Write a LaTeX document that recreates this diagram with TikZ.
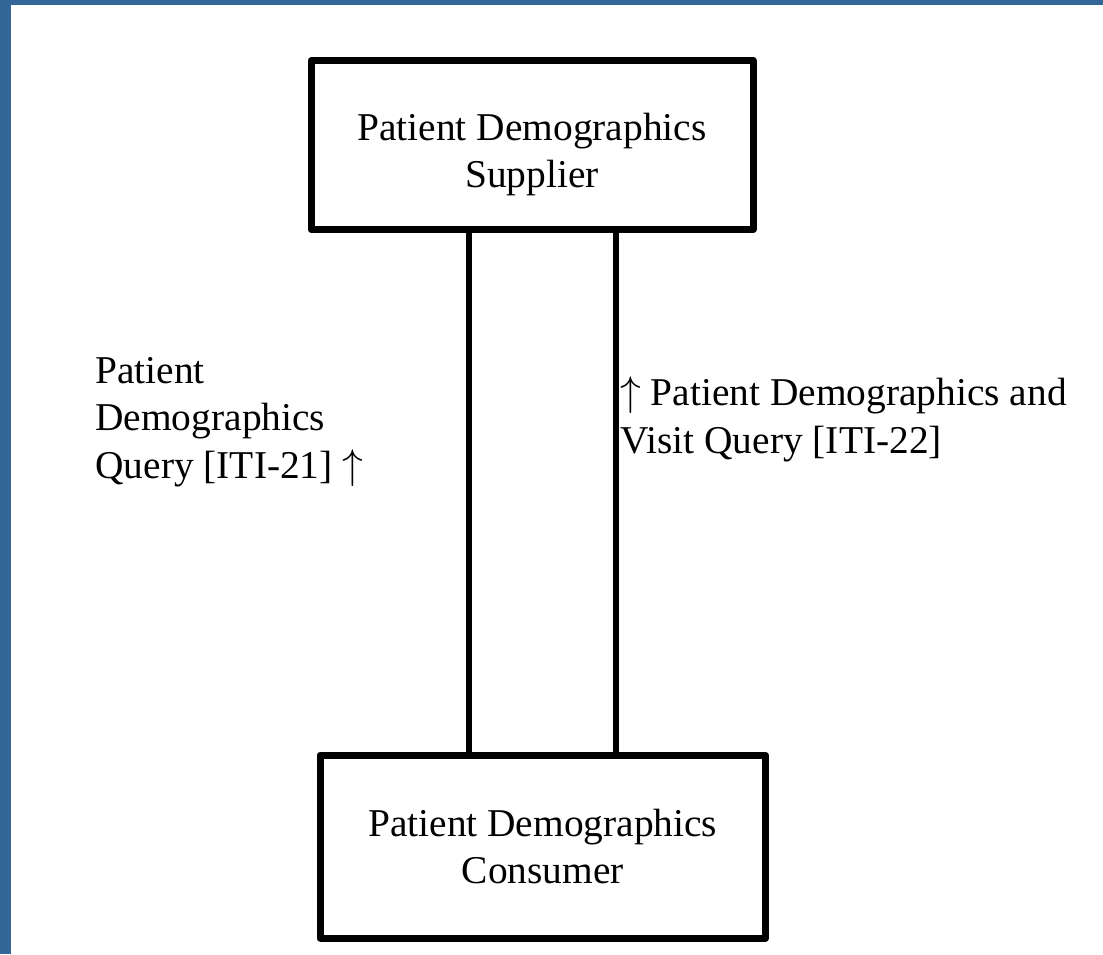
\documentclass[tikz,border=0pt]{standalone}
\usepackage{fontspec}
\setmainfont{Liberation Serif}
\usepackage{tikz}

\definecolor{framebl}{RGB}{51,103,153}
\tikzset{
  actor/.style={draw, line width=3.5pt, line join=round, align=center, inner sep=0pt},
  txn/.style={align=left, inner sep=0pt, anchor=base west},
  link/.style={line width=3pt}
}

\begin{document}
\begin{tikzpicture}[x=0.5pt, y=-0.5pt, font=\fontsize{19.7}{23.75}\selectfont]
\useasboundingbox (0,0) rectangle (1103,954);
\fill[framebl] (0,0) rectangle (11,954);
\fill[framebl] (0,0) rectangle (1103,5);

\node[actor, minimum width=221pt, minimum height=84.5pt, text height=46.8pt, text depth=4.3pt]
  (supplier) at (532,145) {Patient Demographics\\Supplier};
\node[actor, minimum width=222.75pt, minimum height=91.5pt] (consumer) at (542.75,846.5)
  {Patient Demographics\\Consumer};

\draw[link] (supplier.south -| 469,0) -- (consumer.north -| 469,0);
\draw[link] (supplier.south -| 616,0) -- (consumer.north -| 616,0);

% base anchor sits on the last line
\node[txn] (iti21) at (95,478) {Patient\\Demographics\\Query [ITI-21] $\uparrow$};
\node[txn] (iti22) at (620,453) {$\uparrow$ Patient Demographics and\\Visit Query [ITI-22]};

\end{tikzpicture}
\end{document}
